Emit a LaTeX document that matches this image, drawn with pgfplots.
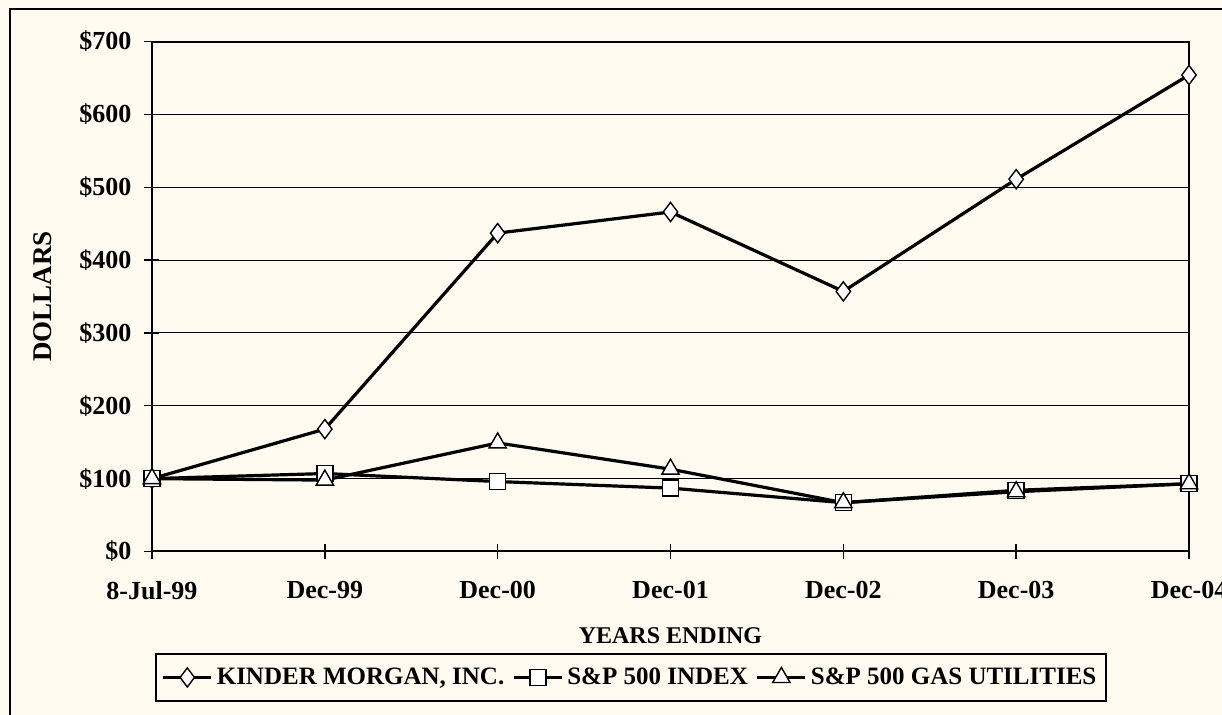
\documentclass[border=0pt]{standalone}
\usepackage{pgfplots}
\pgfplotsset{compat=1.18}
\usepackage{fontspec}
\setmainfont{Liberation Serif}
\definecolor{bgc}{RGB}{255,251,240}
\begin{document}
\begin{tikzpicture}
\path[fill=bgc, use as bounding box] (0,0) rectangle (611pt,357.5pt);
\draw[line width=0.7pt] (5pt,0) -- (5pt,353pt) -- (611pt,353pt);
\begin{axis}[
  at={(76pt,81.75pt)}, anchor=south west,
  scale only axis, width=518.5pt, height=255pt,
  xmin=0, xmax=6, ymin=0, ymax=700,
  xtick={0,1,2,3,4,5,6},
  xticklabels={8-Jul-99,Dec-99,Dec-00,Dec-01,Dec-02,Dec-03,Dec-04},
  ytick={0,100,200,300,400,500,600,700},
  yticklabels={\$0,\$100,\$200,\$300,\$400,\$500,\$600,\$700},
  xtick pos=left, ytick pos=left,
  tick align=center, major tick length=7.5pt,
  tick style={black, line width=0.7pt},
  ymajorgrids, grid style={black, line width=0.5pt},
  axis line style={black, line width=1pt},
  tick label style={font=\bfseries\fontsize{13}{15}\selectfont},
  xticklabel style={yshift=-7.5pt},
  yticklabel style={xshift=-3pt},
  xlabel={YEARS ENDING}, ylabel={DOLLARS},
  xlabel style={font=\bfseries\fontsize{12}{14}\selectfont, yshift=-7pt},
  ylabel style={font=\bfseries\fontsize{13.5}{15}\selectfont, yshift=7pt},
  legend columns=3,
  legend style={at={(rel axis cs:0.462,-0.247)}, anchor=center, draw=black, line width=0.9pt, fill=bgc, font=\bfseries\fontsize{12.5}{14}\selectfont, inner xsep=3pt, inner ysep=5pt,
    /tikz/every even column/.append style={column sep=2pt}},
  legend image code/.code={\draw[#1, mark repeat=2, mark phase=2] plot coordinates {(0cm,0cm) (0.42cm,0cm) (0.84cm,0cm)};},
]
\addplot[black, line width=1.6pt, mark=diamond*, mark size=4.8pt, mark options={fill=white, draw=black, line width=0.7pt, solid}] coordinates {(0,100) (1,168) (2,437) (3,466) (4,357) (5,511) (6,654)};
\addlegendentry{KINDER MORGAN, INC.}
\addplot[black, line width=1.6pt, mark=square*, mark size=4pt, mark options={fill=white, draw=black, line width=0.7pt, solid}] coordinates {(0,100) (1,107) (2,96) (3,87) (4,67) (5,84) (6,93)};
\addlegendentry{S\&P 500 INDEX}
\addplot[black, line width=1.6pt, mark=triangle*, mark size=5pt, mark options={fill=white, draw=black, line width=0.7pt, solid}] coordinates {(0,100) (1,98) (2,149) (3,113) (4,67) (5,82) (6,93)};
\addlegendentry{S\&P 500 GAS UTILITIES}
\end{axis}
\end{tikzpicture}
\end{document}
